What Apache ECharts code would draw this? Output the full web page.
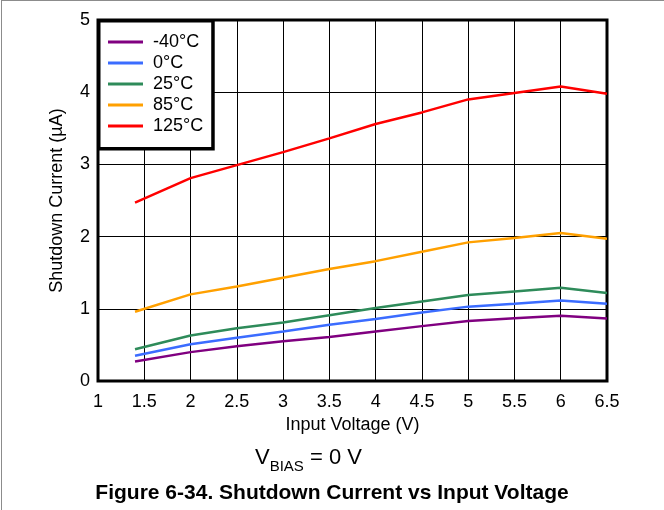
<!DOCTYPE html>
<html>
<head>
<meta charset="utf-8">
<script src="https://cdn.jsdelivr.net/npm/echarts@6/dist/echarts.min.js"></script>
<style>
  body { margin: 0; background: #fff; }
  #wrap { position: relative; width: 664px; height: 510px; }
  #chart { position: absolute; left: 0; top: 0; width: 664px; height: 510px; }
  #frame { position: absolute; left: 1px; top: 0; width: 663px; height: 510px;
    border-top: 1px solid #8c8c8c; border-left: 1px solid #8c8c8c; box-sizing: border-box; pointer-events: none; }
</style>
</head>
<body>
<div id="wrap">
  <div id="chart"></div>
  <div id="frame"></div>
</div>
<script>
const FONT = '"Liberation Sans", Arial, sans-serif';
const voltage = [1.4, 2, 2.5, 3, 3.5, 4, 4.5, 5, 5.5, 6, 6.5];
const tempNames = ["-40°C", "0°C", "25°C", "85°C", "125°C"];
const tempColors = ["#800080", "#3b6cff", "#2e8b5a", "#ffa000", "#ff0000"];
const currentM40 = [0.27, 0.40, 0.48, 0.55, 0.61, 0.685, 0.76, 0.83, 0.87, 0.905, 0.865];
const current0 = [0.35, 0.51, 0.60, 0.685, 0.78, 0.86, 0.95, 1.03, 1.07, 1.115, 1.07];
const current25 = [0.44, 0.63, 0.73, 0.81, 0.91, 1.01, 1.10, 1.19, 1.24, 1.29, 1.22];
const current85 = [0.96, 1.20, 1.31, 1.43, 1.55, 1.66, 1.79, 1.92, 1.98, 2.05, 1.97];
const current125 = [2.47, 2.81, 2.99, 3.17, 3.36, 3.56, 3.72, 3.90, 3.99, 4.08, 3.98];
const currents = [currentM40, current0, current25, current85, current125];

const chart = echarts.init(document.getElementById("chart"));
chart.setOption({
  animation: false,
  textStyle: { fontFamily: FONT },
  grid: {
    left: 98, right: 57, top: 20, bottom: 129,
    show: true, borderColor: "#000", borderWidth: 3,
  },
  legend: {
    orient: "vertical",
    left: 98, top: 20,
    padding: [13, 9, 13, 10],
    itemGap: 3,
    itemWidth: 35,
    itemHeight: 3,
    icon: "rect",
    backgroundColor: "#fff",
    borderColor: "#000",
    borderWidth: 2,
    shadowColor: "#000",
    shadowOffsetX: 1.5,
    shadowOffsetY: 1.5,
    textStyle: { fontSize: 18, color: "#000", lineHeight: 18, padding: [0, 0, 0, 5], fontFamily: FONT },
    data: tempNames,
  },
  xAxis: {
    type: "value",
    min: 1, max: 6.5, interval: 0.5,
    name: "Input Voltage (V)",
    nameLocation: "middle",
    nameGap: 33,
    nameTextStyle: { fontSize: 18, color: "#000", fontFamily: FONT },
    axisLine: { show: false },
    axisTick: { show: false },
    axisLabel: { fontSize: 18, color: "#000", margin: 12, fontFamily: FONT },
    splitLine: { show: true, lineStyle: { color: "#000", width: 1 } },
  },
  yAxis: {
    type: "value",
    min: 0, max: 5, interval: 1,
    name: "Shutdown Current (µA)",
    nameLocation: "middle",
    nameGap: 32,
    nameTextStyle: { fontSize: 18, color: "#000", fontFamily: FONT },
    axisLine: { show: false },
    axisTick: { show: false },
    axisLabel: { fontSize: 18, color: "#000", margin: 8, fontFamily: FONT },
    splitLine: { show: true, lineStyle: { color: "#000", width: 1 } },
  },
  graphic: [
    {
      type: "text",
      left: 255,
      top: 447,
      style: {
        text: "{v|V}{s|BIAS}{v| = 0 V}",
        fill: "#000",
        rich: {
          v: { fontSize: 22, fontFamily: FONT, lineHeight: 26, verticalAlign: "bottom" },
          s: { fontSize: 15, fontFamily: FONT, lineHeight: 15, verticalAlign: "bottom", padding: [0, 0, -5, 0] },
        },
      },
    },
    {
      type: "text",
      left: "center",
      top: 483,
      style: {
        text: "Figure 6-34. Shutdown Current vs Input Voltage",
        fill: "#000",
        font: "bold 21px " + FONT,
      },
    },
  ],
  series: tempNames.map((name, i) => ({
    name: name,
    type: "line",
    symbol: "none",
    color: tempColors[i],
    lineStyle: { width: 2.5, color: tempColors[i] },
    data: voltage.map((v, j) => [v, currents[i][j]]),
    z: 3,
  })),
});
</script>
</body>
</html>
